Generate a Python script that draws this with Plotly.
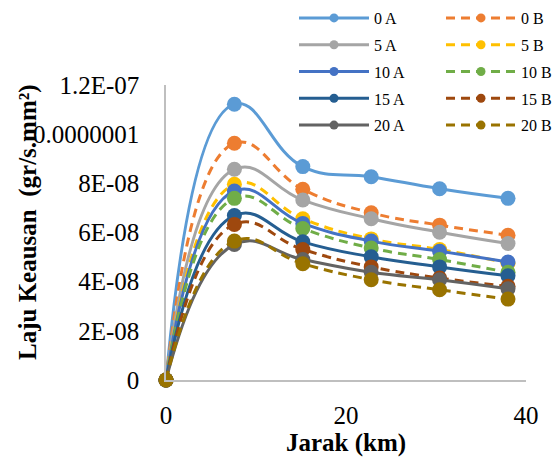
import plotly.graph_objects as go

jarak = [0, 7.6, 15.2, 22.8, 30.4, 38.0]

names = ["0 A", "0 B", "5 A", "5 B", "10 A", "10 B", "15 A", "15 B", "20 A", "20 B"]
colors = ["#5B9BD5", "#ED7D31", "#A5A5A5", "#FFC000", "#4472C4",
          "#70AD47", "#255E91", "#9E480E", "#636363", "#997300"]

v_0A = [0, 1.122e-7, 0.868e-7, 0.827e-7, 0.778e-7, 0.739e-7]
v_0B = [0, 0.963e-7, 0.776e-7, 0.680e-7, 0.630e-7, 0.589e-7]
v_5A = [0, 0.857e-7, 0.732e-7, 0.656e-7, 0.601e-7, 0.555e-7]
v_5B = [0, 0.796e-7, 0.656e-7, 0.574e-7, 0.531e-7, 0.475e-7]
v_10A = [0, 0.769e-7, 0.637e-7, 0.565e-7, 0.524e-7, 0.480e-7]
v_10B = [0, 0.739e-7, 0.616e-7, 0.537e-7, 0.490e-7, 0.438e-7]
v_15A = [0, 0.669e-7, 0.562e-7, 0.501e-7, 0.460e-7, 0.424e-7]
v_15B = [0, 0.633e-7, 0.531e-7, 0.460e-7, 0.415e-7, 0.381e-7]
v_20A = [0, 0.551e-7, 0.490e-7, 0.438e-7, 0.408e-7, 0.371e-7]
v_20B = [0, 0.565e-7, 0.473e-7, 0.408e-7, 0.367e-7, 0.329e-7]

series = [v_0A, v_0B, v_5A, v_5B, v_10A, v_10B, v_15A, v_15B, v_20A, v_20B]

y_tickvals = [0, 2e-8, 4e-8, 6e-8, 8e-8, 1e-7, 1.2e-7]
y_ticktext = ["0", "2E-08", "4E-08", "6E-08", "8E-08", "0.0000001", "1.2E-07"]
x_tickvals = [0, 20, 40]

FONT = "Times New Roman, Liberation Serif, serif"

fig = go.Figure()
for i, (nm, col, vals) in enumerate(zip(names, colors, series)):
    dash = "solid" if nm.endswith("A") else "9px,6px"
    fig.add_trace(go.Scatter(
        x=jarak, y=vals, mode="lines+markers", name=nm,
        line=dict(color=col, width=3, shape="spline", smoothing=1.3, dash=dash),
        marker=dict(color=col, size=15),
        cliponaxis=False, showlegend=False))

for i, (nm, col) in enumerate(zip(names, colors)):
    dash = "solid" if nm.endswith("A") else "9px,6px"
    fig.add_trace(go.Scatter(
        x=[None], y=[None], mode="lines+markers", name=nm,
        line=dict(color=col, width=3, dash=dash),
        marker=dict(color=col, size=9),
        legend="legend" if nm.endswith("A") else "legend2",
        legendgroup=nm, showlegend=True))

legend_common = dict(
    orientation="v", bgcolor="rgba(0,0,0,0)",
    font=dict(family=FONT, size=16, color="#000"),
    itemwidth=70, tracegroupgap=3, xanchor="left", yanchor="top",
    xref="container", yref="container")

fig.update_layout(
    width=560, height=457,
    margin=dict(l=166, r=34, t=85, b=77, autoexpand=False),
    plot_bgcolor="white", paper_bgcolor="white",
    font=dict(family=FONT, size=25, color="#000"),
    legend=dict(x=294 / 560, y=1 - 1 / 457, **legend_common),
    legend2=dict(x=441 / 560, y=1 - 1 / 457, **legend_common),
    xaxis=dict(range=[0, 40], tickvals=x_tickvals, showgrid=False, zeroline=False,
               showline=True, linecolor="#BFBFBF", linewidth=1.5, ticks="",
               ticklabelstandoff=12,
               title=dict(text="<b>Jarak (km)</b>", standoff=8,
                          font=dict(family=FONT, size=25))),
    yaxis=dict(range=[0, 1.2e-7], tickvals=y_tickvals, ticktext=y_ticktext,
               showgrid=False, zeroline=False, showline=True, linecolor="#BFBFBF",
               linewidth=1.5, ticks="", ticklabelstandoff=20),
    annotations=[dict(
        text="<b>Laju Keausan  (gr/s.mm²)</b>", textangle=-90,
        xref="paper", yref="paper", x=(28 - 166) / 360, y=(380 - 222) / 295,
        xanchor="center", yanchor="middle", showarrow=False,
        font=dict(family=FONT, size=25, color="#000"))],
)

fig.write_html("out.html")
